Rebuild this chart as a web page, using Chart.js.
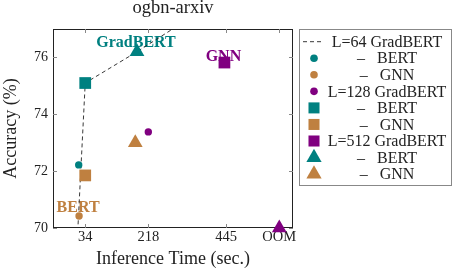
<!DOCTYPE html>
<html>
<head>
<meta charset="utf-8">
<script src="https://cdn.jsdelivr.net/npm/chart.js@4/dist/chart.umd.min.js"></script>
<style>
  html, body { margin: 0; padding: 0; background: #fff; }
</style>
</head>
<body>
<canvas id="myChart" width="454" height="270"></canvas>
<script>
// data
const timeTicks = [34, 218, 445, 600];
const timeTickText = ['34', '218', '445', 'OOM'];
const accTicks = [70, 72, 74, 76];

// dashed GradBERT curve (ends run off the plot)
const curveTime = [8, 34, 185, 380];
const curveAcc = [68.9, 75.1, 76.2, 77.7];

// single markers: L=64 circles, L=128 squares, L=512 triangles
const pointTime = [15, 16, 218, 34, 34, 440, 185, 180, 600];
const pointAcc = [72.22, 70.42, 73.38, 75.1, 71.85, 75.82, 76.2, 73.0, 70.0];
const pointColor = ['#008080', '#bf8040', '#800080', '#008080', '#bf8040', '#800080', '#008080', '#bf8040', '#800080'];
const pointShape = ['circle', 'circle', 'circle', 'rect', 'rect', 'rect', 'triangle', 'triangle', 'triangle'];
const pointSize = [3.7, 3.7, 3.7, 8.3, 8.3, 8.3, 8.5, 8.5, 8.5];

const legendLabels = ['L=64 GradBERT', '–\u2002\u2005BERT', '–\u2002\u2005GNN', 'L=128 GradBERT', '–\u2002\u2005BERT', '–\u2002\u2005GNN', 'L=512 GradBERT', '–\u2002\u2005BERT', '–\u2002\u2005GNN'];

// text notes sitting on top of markers
const noteText = ['GradBERT', 'GNN', 'BERT'];
const notePoint = [6, 5, 1];
const noteLift = [5, 1.5, 4];

const serif = 'Liberation Serif';
const ink = '#222';

var datasets = [{
    label: legendLabels[0],
    data: curveTime.map((t, i) => ({ x: t, y: curveAcc[i] })),
    showLine: true,
    borderColor: ink,
    borderWidth: 0.9,
    borderDash: [4, 3],
    pointRadius: 0,
    order: 1
}];
pointTime.forEach((t, i) => {
    datasets.push({
        label: legendLabels[i + 1] || '',
        data: [{ x: t, y: pointAcc[i] }],
        pointStyle: pointShape[i],
        pointRadius: pointSize[i],
        backgroundColor: pointColor[i],
        borderColor: pointColor[i],
        borderWidth: 0,
        clip: false,
        order: 0
    });
});

const decor = {
    id: 'decor',
    beforeDatasetsDraw(chart) {
        const ctx = chart.ctx;
        const a = chart.chartArea;
        const xs = chart.scales.x, ys = chart.scales.y;
        ctx.save();
        // frame
        ctx.strokeStyle = ink;
        ctx.lineWidth = 1;
        ctx.strokeRect(Math.round(a.left) + 0.5, Math.round(a.top) + 0.5,
            Math.round(a.right - a.left) - 1, Math.round(a.bottom - a.top) - 1);
        // inward ticks on all four sides
        ctx.strokeStyle = '#888';
        ctx.beginPath();
        xs.ticks.forEach(t => {
            const px = Math.round(xs.getPixelForValue(t.value)) + 0.5;
            ctx.moveTo(px, a.top); ctx.lineTo(px, a.top + 4);
            ctx.moveTo(px, a.bottom); ctx.lineTo(px, a.bottom - 4);
        });
        ys.ticks.forEach(t => {
            const py = Math.round(ys.getPixelForValue(t.value)) + 0.5;
            ctx.moveTo(a.left, py); ctx.lineTo(a.left + 4, py);
            ctx.moveTo(a.right, py); ctx.lineTo(a.right - 4, py);
        });
        ctx.stroke();
        // notes
        ctx.font = 'bold 16px "' + serif + '"';
        ctx.textAlign = 'center';
        ctx.textBaseline = 'alphabetic';
        noteText.forEach((txt, i) => {
            const el = chart.getDatasetMeta(notePoint[i] + 1).data[0];
            ctx.fillStyle = pointColor[notePoint[i]];
            ctx.fillText(txt, el.x - 1, el.y - noteLift[i]);
        });
        ctx.restore();
    },
    afterDraw(chart) {
        const ctx = chart.ctx;
        const a = chart.chartArea;
        ctx.save();
        // title
        ctx.fillStyle = ink;
        ctx.font = '18.5px "' + serif + '"';
        ctx.textAlign = 'center';
        ctx.textBaseline = 'alphabetic';
        ctx.fillText('ogbn-arxiv', (a.left + a.right) / 2, 13);

        // legend box
        const bx = 299.5, by = 29.5, bw = 152, bh = 156;
        ctx.strokeStyle = '#888';
        ctx.lineWidth = 1;
        ctx.strokeRect(bx, by, bw, bh);
        ctx.font = '16px "' + serif + '"';
        ctx.textBaseline = 'middle';
        legendLabels.forEach((lab, i) => {
            const ry = 41.7 + i * 16.55;
            const ds = chart.data.datasets[i];
            if (i === 0) {
                ctx.strokeStyle = ink;
                ctx.lineWidth = 0.9;
                ctx.setLineDash([4, 3]);
                ctx.beginPath();
                ctx.moveTo(303, ry); ctx.lineTo(324, ry);
                ctx.stroke();
                ctx.setLineDash([]);
            } else {
                ctx.fillStyle = ds.backgroundColor;
                Chart.helpers.drawPoint(ctx, {
                    pointStyle: ds.pointStyle,
                    radius: ds.pointStyle === 'circle' ? 3.8 : (ds.pointStyle === 'rect' ? 7.8 : 8.8),
                    rotation: 0,
                    borderWidth: 0
                }, 314, ry);
            }
            ctx.fillStyle = ink;
            ctx.textAlign = 'center';
            ctx.fillText(lab, 387, ry + 1);
        });
        ctx.restore();
    }
};

var ctx = document.getElementById('myChart').getContext('2d');

var myChart = new Chart(ctx, {
    type: 'scatter',
    data: { datasets: datasets },
    options: {
        responsive: false,
        animation: false,
        devicePixelRatio: 1,
        layout: { padding: { left: 0, top: 29, right: 161, bottom: 0 } },
        plugins: {
            legend: { display: false },
            tooltip: { enabled: false },
            title: { display: false }
        },
        scales: {
            x: {
                type: 'linear',
                min: -60,
                max: 640,
                afterBuildTicks: s => { s.ticks = timeTicks.map(v => ({ value: v })); },
                afterFit: s => { s.height = 42; },
                grid: { display: false, drawTicks: false },
                border: { display: false },
                ticks: {
                    autoSkip: false,
                    maxRotation: 0,
                    padding: 0,
                    color: ink,
                    font: { family: serif, size: 14.5 },
                    callback: v => timeTickText[timeTicks.indexOf(v)]
                },
                title: {
                    display: true,
                    text: 'Inference Time (sec.)',
                    color: ink,
                    padding: 0,
                    font: { family: serif, size: 18 }
                }
            },
            y: {
                min: 70,
                max: 77,
                afterBuildTicks: s => { s.ticks = accTicks.map(v => ({ value: v })); },
                afterFit: s => { s.width = 53; },
                grid: { display: false, drawTicks: false },
                border: { display: false },
                ticks: {
                    padding: 5,
                    color: ink,
                    font: { family: serif, size: 14 }
                },
                title: {
                    display: true,
                    text: 'Accuracy (%)',
                    color: ink,
                    padding: 0,
                    font: { family: serif, size: 18 }
                }
            }
        }
    },
    plugins: [decor]
});
</script>
</body>
</html>
